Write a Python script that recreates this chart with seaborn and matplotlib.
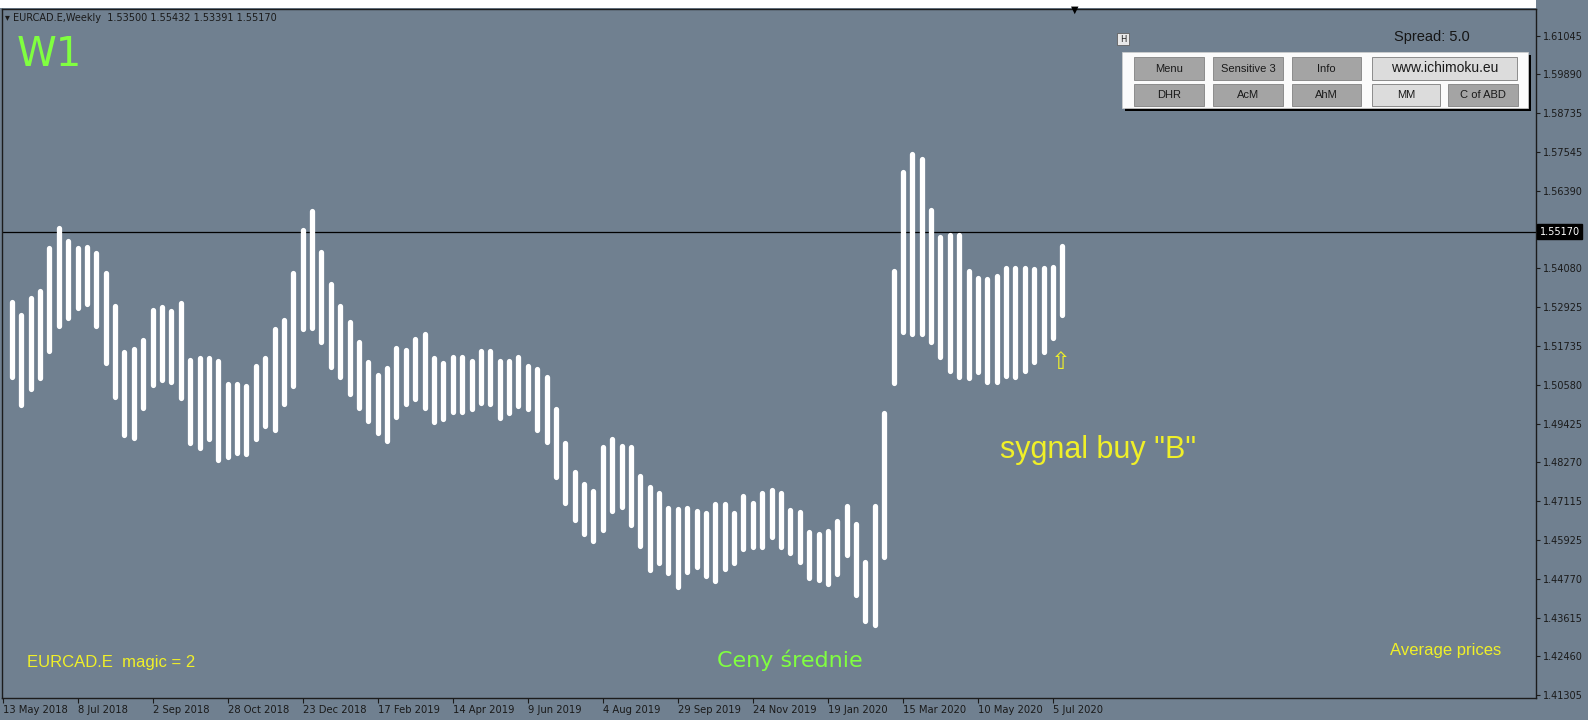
import matplotlib
matplotlib.use("Agg")
import matplotlib.pyplot as plt
import numpy as np
import pandas as pd
import seaborn as sns
from matplotlib.patches import Rectangle

# ---------------- data ----------------
symbol = "EURCAD.E"
timeframe = "Weekly"
last_ohlc = [1.53500, 1.55432, 1.53391, 1.55170]
last_price = 1.55170

bar_highs = [
    1.5306, 1.5267, 1.5318, 1.5339, 1.5468, 1.5528, 1.5489, 1.5468, 1.5471, 1.5453,
    1.5393, 1.5294, 1.5157, 1.5166, 1.5193, 1.5282, 1.5291, 1.5279, 1.5303, 1.5133,
    1.5139, 1.5139, 1.5130, 1.5061, 1.5061, 1.5055, 1.5115, 1.5139, 1.5225, 1.5252,
    1.5393, 1.5522, 1.5579, 1.5456, 1.5360, 1.5294, 1.5246, 1.5187, 1.5127, 1.5088,
    1.5109, 1.5169, 1.5163, 1.5196, 1.5211, 1.5139, 1.5124, 1.5142, 1.5142, 1.5130,
    1.5160, 1.5160, 1.5130, 1.5130, 1.5142, 1.5115, 1.5106, 1.5082, 1.4986, 1.4884,
    1.4797, 1.4761, 1.4740, 1.4872, 1.4896, 1.4875, 1.4872, 1.4785, 1.4752, 1.4734,
    1.4690, 1.4687, 1.4690, 1.4681, 1.4675, 1.4702, 1.4702, 1.4675, 1.4725, 1.4705,
    1.4734, 1.4743, 1.4734, 1.4684, 1.4679, 1.4619, 1.4613, 1.4622, 1.4652, 1.4695,
    1.4643, 1.4528, 1.4695, 1.4974, 1.5398, 1.5695, 1.5750, 1.5735, 1.5583, 1.5501,
    1.5507, 1.5507, 1.5398, 1.5377, 1.5374, 1.5383, 1.5407, 1.5407, 1.5407, 1.5404,
    1.5407, 1.5410, 1.5474,
]
bar_lows = [
    1.5082, 1.4998, 1.5046, 1.5079, 1.5160, 1.5235, 1.5258, 1.5288, 1.5300, 1.5235,
    1.5124, 1.5022, 1.4908, 1.4899, 1.4989, 1.5058, 1.5073, 1.5067, 1.5019, 1.4884,
    1.4869, 1.4896, 1.4833, 1.4842, 1.4854, 1.4851, 1.4896, 1.4935, 1.4923, 1.5001,
    1.5055, 1.5225, 1.5228, 1.5187, 1.5112, 1.5082, 1.5031, 1.4989, 1.4950, 1.4914,
    1.4890, 1.4962, 1.5001, 1.5016, 1.4989, 1.4947, 1.4956, 1.4977, 1.4977, 1.4986,
    1.5004, 1.5001, 1.4959, 1.4974, 1.4995, 1.4986, 1.4923, 1.4887, 1.4782, 1.4705,
    1.4654, 1.4612, 1.4591, 1.4624, 1.4681, 1.4693, 1.4639, 1.4576, 1.4504, 1.4525,
    1.4495, 1.4453, 1.4498, 1.4513, 1.4486, 1.4471, 1.4507, 1.4525, 1.4567, 1.4573,
    1.4573, 1.4603, 1.4573, 1.4555, 1.4528, 1.4479, 1.4473, 1.4461, 1.4492, 1.4549,
    1.4428, 1.4352, 1.4340, 1.4543, 1.5065, 1.5216, 1.5210, 1.5210, 1.5186, 1.5143,
    1.5101, 1.5083, 1.5080, 1.5098, 1.5068, 1.5068, 1.5086, 1.5083, 1.5101, 1.5128,
    1.5156, 1.5198, 1.5268,
]

date_tick_labels = ["13 May 2018", "8 Jul 2018", "2 Sep 2018", "28 Oct 2018",
                    "23 Dec 2018", "17 Feb 2019", "14 Apr 2019", "9 Jun 2019",
                    "4 Aug 2019", "29 Sep 2019", "24 Nov 2019", "19 Jan 2020",
                    "15 Mar 2020", "10 May 2020", "5 Jul 2020"]
price_ticks = [1.61045, 1.59890, 1.58735, 1.57545, 1.56390, 1.55170, 1.54080,
               1.52925, 1.51735, 1.50580, 1.49425, 1.48270, 1.47115, 1.45925,
               1.44770, 1.43615, 1.42460, 1.41305]

row1_buttons = ["Menu", "Sensitive 3", "Info", "www.ichimoku.eu"]
row2_buttons = ["DHR", "AcM", "AhM", "MM", "C of ABD"]

# ---------------- long-form frame ----------------
n = len(bar_highs)
bar_pos = np.arange(1, n + 1)  # week index, 0 = 13 May 2018
df = pd.DataFrame({
    "bar": np.repeat(bar_pos, 2),
    "week": np.repeat(bar_pos, 2),
    "price": np.ravel(np.column_stack([bar_lows, bar_highs])),
})

# ---------------- figure ----------------
W, H = 1588, 720
BG = "#708090"
sns.set_style("white")
plt.rcParams["font.family"] = ["DejaVu Sans"]

fig = plt.figure(figsize=(W / 100, H / 100), dpi=100, facecolor=BG)
left, right, top, bottom = 2, 1536, 9, 698
ax = fig.add_axes([left / W, 1 - bottom / H, (right - left) / W, (bottom - top) / H])
ax.set_facecolor(BG)

sns.lineplot(data=df, x="week", y="price", units="bar", estimator=None,
             color="white", lw=3.8, solid_capstyle="round", sort=False,
             legend=False, ax=ax)

ax.axhline(last_price, color="black", lw=0.9, zorder=1)

ax.set_xlim(-0.06, 163.5)
ax.set_ylim(1.41207, 1.6184)
ax.set_xlabel("")
ax.set_ylabel("")
ax.grid(False)

for s in ax.spines.values():
    s.set_color("#1c1c1c")
    s.set_linewidth(1.0)

ax.set_xticks(np.arange(0, 8 * len(date_tick_labels), 8))
ax.set_xticklabels(date_tick_labels)
for lbl in ax.get_xticklabels():
    lbl.set_horizontalalignment("left")
ax.tick_params(axis="x", direction="out", length=3.5, width=0.8, color="#1c1c1c",
               labelsize=7.2, labelcolor="#1a1a1a", pad=1.5, bottom=True)

ax.yaxis.tick_right()
ax.set_yticks(price_ticks)
# the current-price tick is labelled by the black price tag instead
ax.set_yticklabels(["" if abs(v - last_price) < 1e-9 else f"{v:.5f}" for v in price_ticks])
ax.tick_params(axis="y", direction="out", length=3, width=0.8, color="#1c1c1c",
               labelsize=7, labelcolor="#1a1a1a", pad=2, right=True, left=False)

ax.annotate(f"{last_price:.5f}", xy=(1.0, last_price),
            xycoords=("axes fraction", "data"), xytext=(2.5, 0),
            textcoords="offset points", ha="left", va="center", fontsize=7,
            color="white", annotation_clip=False, zorder=10,
            bbox=dict(boxstyle="square,pad=0.25", fc="black", ec="black"))


# ---------------- helpers in pixel space ----------------
def prect(x0, y0, x1, y1, **kw):
    fig.add_artist(Rectangle((x0 / W, 1 - y1 / H), (x1 - x0) / W, (y1 - y0) / H,
                             transform=fig.transFigure, **kw))


def ptext(x, y, s, **kw):
    fig.text(x / W, 1 - y / H, s, **kw)


# white strip above the chart window
prect(0, 0, right, 8, fc="white", ec="none", zorder=0.5)

# header
ptext(5, 18, "\u25BE " + f"{symbol},{timeframe}  " + " ".join(f"{v:.5f}" for v in last_ohlc),
      fontsize=7, color="#1a1a1a", va="center", ha="left")
ptext(1075, 10, "\u25BC", fontsize=7, color="black", va="center", ha="center")

ptext(17, 55, "W1", fontsize=29, color="#80FF40", va="center", ha="left")

# spread and panel
ptext(1432, 37, "Spread: 5.0", fontsize=10.5, color="#151515", va="center",
      ha="center", family="Liberation Sans")
prect(1117, 33, 1129, 45, fc="#e8e8e8", ec="#606060", lw=0.6)
ptext(1123, 39, "H", fontsize=6, color="#222222", va="center", ha="center")

prect(1125, 55, 1531, 111, fc="black", ec="none")
prect(1122, 52, 1528, 108, fc="#fbfbfb", ec="#d0d0d0", lw=0.5)

row1_x = [(1134, 1204), (1213, 1283), (1292, 1361), (1372, 1517)]
row2_x = [(1134, 1204), (1213, 1283), (1292, 1361), (1372, 1440), (1448, 1518)]
row1_light = [False, False, False, True]
row2_light = [False, False, False, True, False]
for lab, (x0, x1), light in zip(row1_buttons, row1_x, row1_light):
    prect(x0, 57, x1, 80, fc="#dcdcdc" if light else "#a4a4a4", ec="#8c8c8c", lw=0.7)
    ptext((x0 + x1) / 2, 68.5, lab, fontsize=10 if light else 8, color="#1a1a1a",
          va="center", ha="center", family="Liberation Sans")
for lab, (x0, x1), light in zip(row2_buttons, row2_x, row2_light):
    prect(x0, 84, x1, 106, fc="#dcdcdc" if light else "#a4a4a4", ec="#8c8c8c", lw=0.7)
    ptext((x0 + x1) / 2, 95, lab, fontsize=8, color="#1a1a1a",
          va="center", ha="center", family="Liberation Sans")

# annotations
YEL = "#F0F028"
ptext(1000, 450, 'sygnal buy "B"', fontsize=22, color=YEL, va="center", ha="left",
      family="Liberation Sans")
ptext(1061, 362, "\u21E7", fontsize=17, color=YEL, va="center", ha="center")
ptext(27, 663, f"{symbol}  magic = 2", fontsize=12, color=YEL, va="center", ha="left",
      family="Liberation Sans")
ptext(717, 660, "Ceny średnie", fontsize=16, color="#80FF40", va="center", ha="left")
ptext(1390, 650, "Average prices", fontsize=12, color=YEL, va="center", ha="left",
      family="Liberation Sans")

fig.savefig("out.png", dpi=100, facecolor=BG)
